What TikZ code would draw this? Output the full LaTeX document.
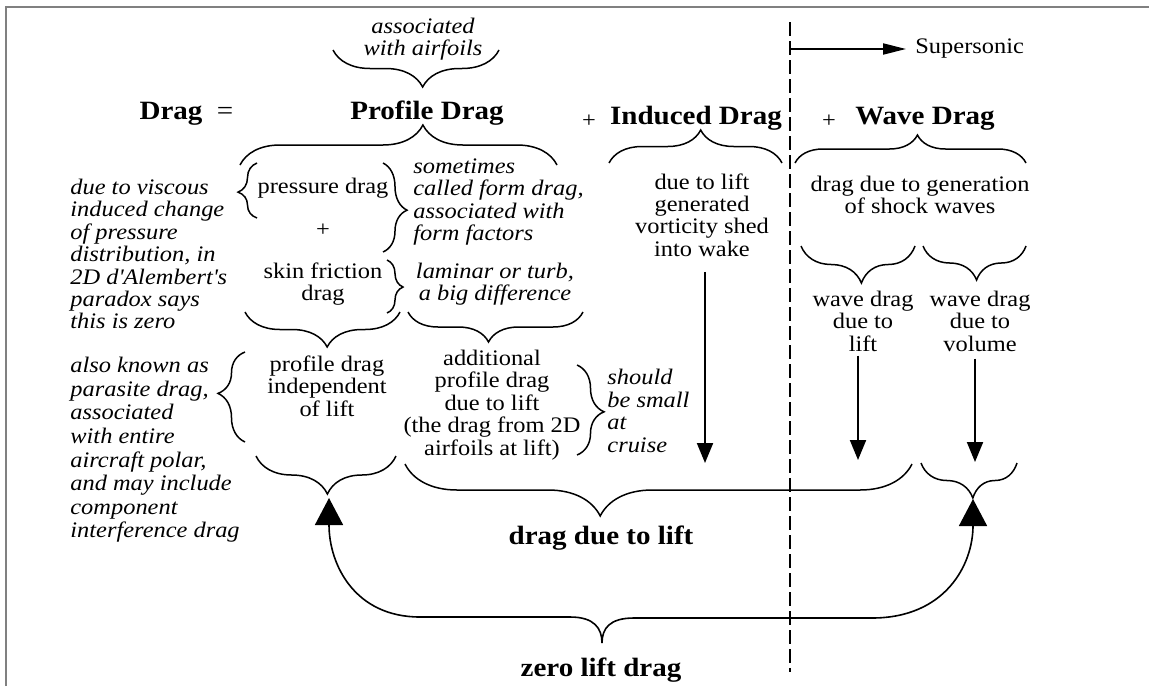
\documentclass[tikz,border=0pt]{standalone}
\usepackage{fontspec}
\setmainfont{Liberation Serif}[FakeStretch=1.1]
\usetikzlibrary{arrows.meta,decorations.pathreplacing}
\tikzset{
  txt/.style={inner sep=0pt, align=center, font=\fontsize{11.1}{11.2}\selectfont},
  note/.style={txt, align=left, font=\fontsize{11.1}{11.2}\selectfont\itshape},
  head/.style={inner sep=0pt, anchor=base, font=\fontsize{13.2}{15}\selectfont\bfseries},
  brc/.style 2 args={decorate, decoration={brace, amplitude=#1, aspect=#2}, line width=.75pt},
  arr/.style={-{Triangle[length=10pt,width=8pt]}, line width=1pt},
  bigarr/.style={-{Triangle[length=13.5pt,width=14pt]}, line width=.8pt},
}
\begin{document}
\begin{tikzpicture}[x=.5pt,y=-.5pt]
\useasboundingbox (0,0) rectangle (1149,686);
\draw[gray, line width=1pt] (6,686) -- (6,7) -- (1149,7);
% headings
\node[head] (drag) at (171,119) {Drag};
\node[inner sep=0pt, anchor=base, font=\fontsize{13.2}{15}\selectfont] (eq) at (225,119) {=};
\node[head] (prof) at (427,119) {Profile Drag};
\node[txt] (p1) at (589,121) {+};
\node[head] (ind) at (696,124) {Induced Drag};
\node[txt] (p2) at (829,121) {+};
\node[head] (wave) at (925,124) {Wave Drag};
\node[note, align=center] (assoc) at (423,39) {associated\\with airfoils};
% supersonic split
\draw[line width=1.2pt, dash pattern=on 7pt off 2.5pt] (790,22) -- (790,672);
\node[txt, anchor=west] (sup) at (915,49) {Supersonic};
\coordinate (sup start) at (790,49);
\draw[-{Triangle[length=11.5pt,width=5.5pt]}, line width=1pt, shorten >=4.5pt] (sup start) -- (sup.west);
% profile drag
\node[note, anchor=west] (visc) at (70,254) {due to viscous\\induced change\\of pressure\\distribution, in\\2D d\textquotesingle Alembert\textquotesingle s\\paradox says\\this is zero};
\node[txt] (pres) at (323,188) {pressure drag};
\node[txt] (p3) at (323,230) {+};
\node[txt] (skin) at (323,284) {skin friction\\drag};
\node[note, anchor=west] (form) at (413,202) {sometimes\\called form drag,\\associated with\\form factors};
\node[note, align=center] (lam) at (495,284) {laminar or turb,\\a big difference};
\node[txt] (pind) at (327,386) {profile drag\\independent\\of lift};
\node[txt] (addl) at (492,405) {additional\\profile drag\\due to lift\\(the drag from 2D\\airfoils at lift)};
\node[note, anchor=west] (small) at (607,411) {should\\be small\\at\\cruise};
\node[note, anchor=west, font=\fontsize{11.1}{11.8}\selectfont\itshape] (para) at (70,450) {also known as\\parasite drag,\\associated\\with entire\\aircraft polar,\\and may include\\component\\interference drag};
% induced and wave drag
\node[txt] (indtxt) at (702,215) {due to lift\\generated\\vorticity shed\\into wake};
\node[txt] (wavetxt) at (920,195) {drag due to generation\\of shock waves};
\node[txt] (wlift) at (863,321) {wave drag\\due to\\lift};
\node[txt] (wvol) at (980,321) {wave drag\\due to\\volume};
\node[head, anchor=center] (dlift) at (601,538) {drag due to lift};
\node[head, anchor=center] (zlift) at (601,670) {zero lift drag};
% braces
\draw[brc={18.5pt}{.46}] (499,50) -- (333,50);
\draw[brc={20pt}{.577}] (240,165) -- (557,165);
\draw[brc={16.5pt}{.53}] (609,163) -- (782,163);
\draw[brc={14pt}{.53}] (795,163) -- (1026,163);
\draw[brc={9.5pt}{.47}] (257,218) -- (257,163);
\draw[brc={12pt}{.53}] (383,163) -- (383,252);
\draw[brc={8pt}{.51}] (387,260) -- (387,313);
\draw[brc={17.5pt}{.47}] (400,312) -- (245,312);
\draw[brc={15pt}{.54}] (583,312) -- (408,312);
\draw[brc={13.5pt}{.54}] (245,442) -- (245,352);
\draw[brc={13.5pt}{.52}] (577,365) -- (577,455);
\draw[brc={18.5pt}{.47}] (915,246) -- (801,246);
\draw[brc={17pt}{.48}] (1026,246) -- (923,246);
\draw[brc={19pt}{.49}] (396,456) -- (256,456);
\draw[brc={26pt}{.615}] (912,464) -- (405,464);
\draw[brc={17.5pt}{.46}] (1017,463) -- (921,463);
% arrows
\coordinate (ind end) at (705,463);
\coordinate (wl end) at (858,460);
\coordinate (wv end) at (975,462);
\draw[arr, shorten <=7.5pt] (indtxt.south -| ind end) -- (ind end);
\draw[arr, shorten <=2pt] (wlift.south -| wl end) -- (wl end);
\draw[arr, shorten <=3.5pt] (wvol.south -| wv end) -- (wv end);
\coordinate (pind tip) at (329,498);
\coordinate (vol tip) at (973,499);
\coordinate (zl tip) at (602,643);
\draw[bigarr] (zl tip) .. controls (602,628) and (594,617) .. (570,617) -- (420,617) .. controls (355,617) and (329,565) .. (pind tip);
\draw[bigarr] (zl tip) .. controls (602,628) and (610,618) .. (634,618) -- (872,618) .. controls (945,618) and (973,565) .. (vol tip);
\end{tikzpicture}
\end{document}
